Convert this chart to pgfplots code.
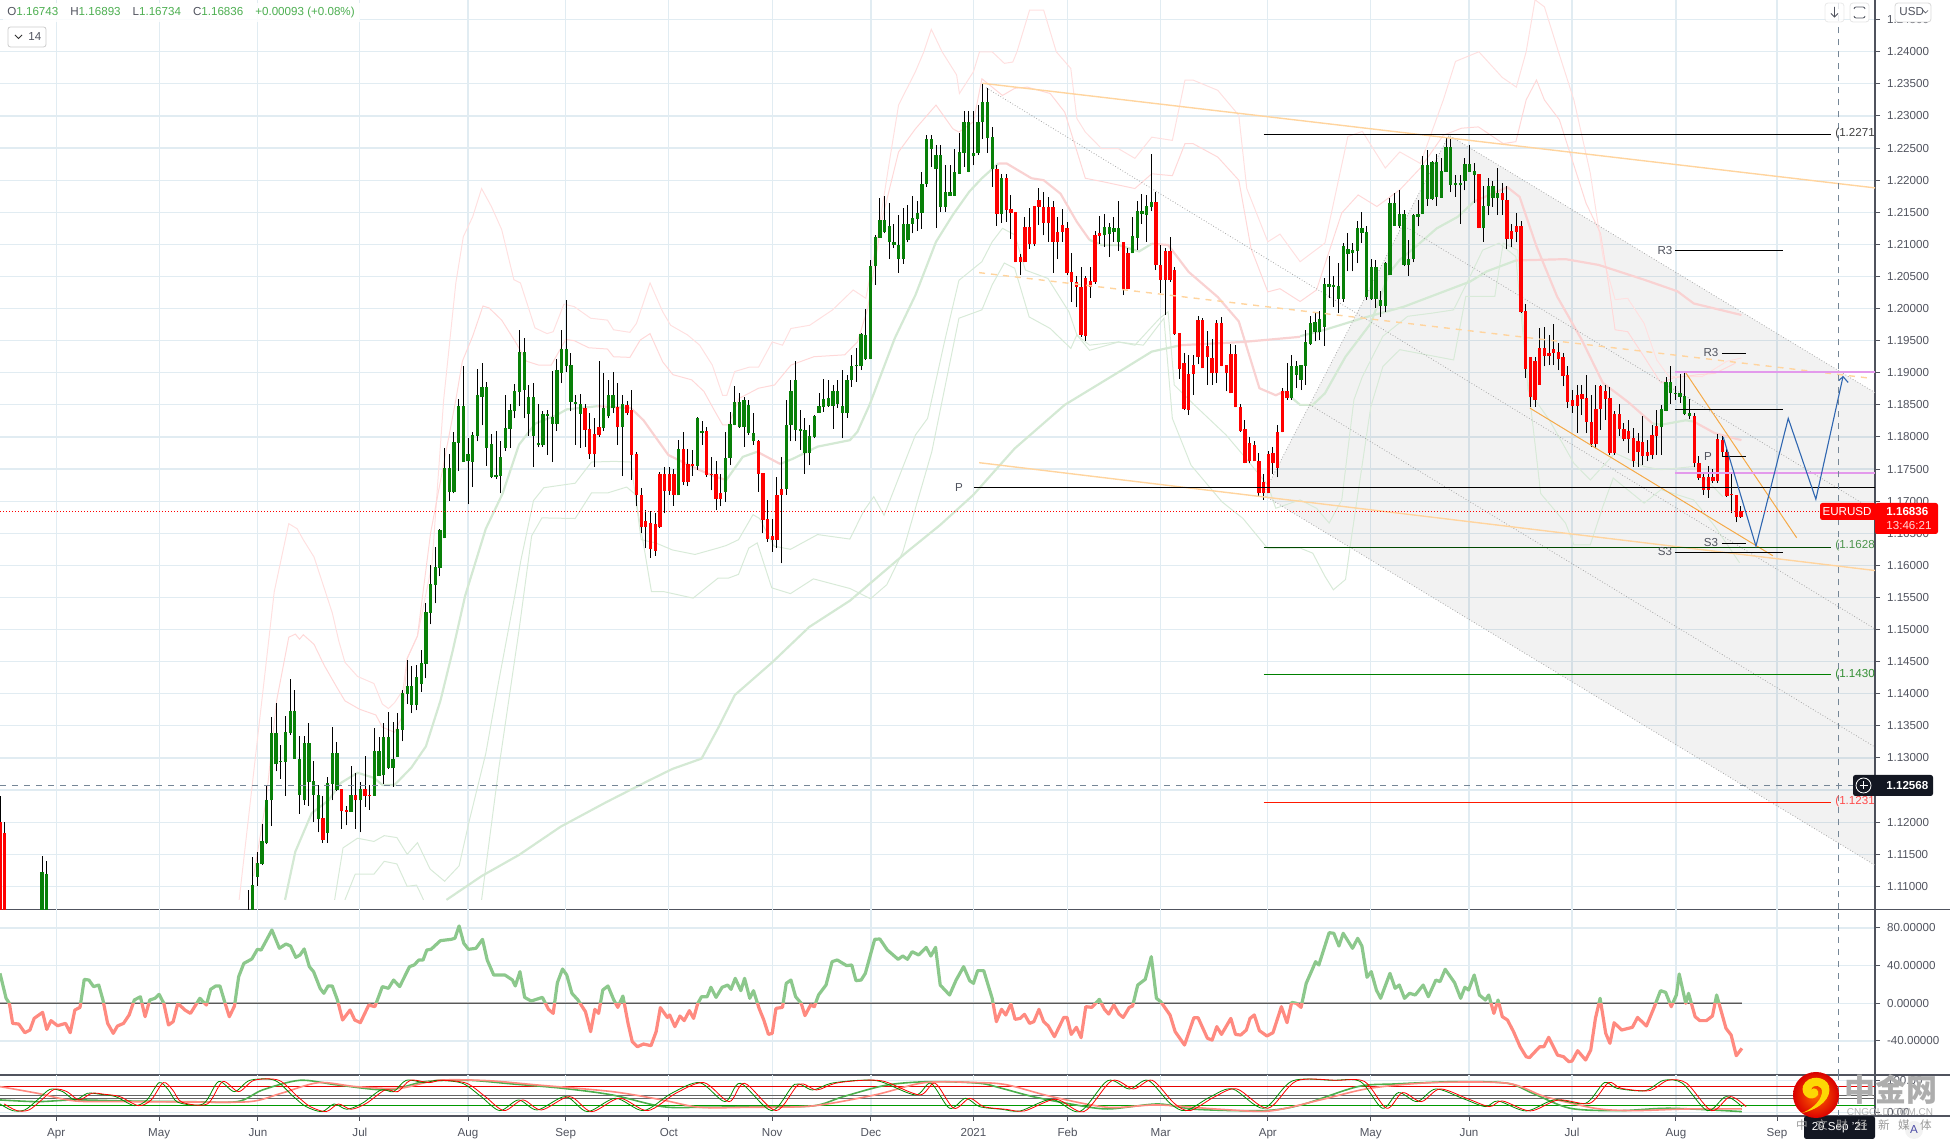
\documentclass[border=0pt]{standalone}
\usepackage{fontspec}
\setmainfont{Liberation Sans}
\newfontfamily\cjk{Noto Sans CJK SC}
\usepackage{pgfplots}
\usepackage{pgfplotstable}
\pgfplotsset{compat=1.18}
\definecolor{gridc}{HTML}{E1ECF2}
\definecolor{labc}{HTML}{50535E}
\definecolor{upc}{HTML}{088008}
\definecolor{dnc}{HTML}{FF0000}
\definecolor{thinred}{HTML}{FFE0E0}
\definecolor{thinred2}{HTML}{FFD8D8}
\definecolor{thkred}{HTML}{F9D2D2}
\definecolor{thingrn}{HTML}{D8EAD8}
\definecolor{thkgrn}{HTML}{D4E9D4}
\definecolor{orl}{HTML}{FFD49E}
\definecolor{ord}{HTML}{F5A947}
\definecolor{vio}{HTML}{E39AEC}
\definecolor{bluep}{HTML}{2F66B0}
\definecolor{xhair}{HTML}{758696}
\definecolor{oscg}{HTML}{8CC88C}
\definecolor{oscr}{HTML}{FF8A80}
\definecolor{dark}{HTML}{131722}
\newcommand{\tf}{\fontsize{5.8}{7}\selectfont}

% candles: bar number, low, body bottom, body top, high
\pgfplotstableread{
n low bot top high
9 1.09 1.095 1.1123 1.1148
10 1.09 1.095 1.1120 1.1140
53 1.10 1.10 1.106 1.1094
54 1.104 1.105 1.1102 1.1146
55 1.1101 1.1115 1.1136 1.1154
56 1.1133 1.1135 1.1171 1.1197
57 1.1166 1.1168 1.1235 1.1257
58 1.1194 1.1234 1.1339 1.1364
59 1.1279 1.1290 1.1339 1.1386
60 1.1268 1.1293 1.1295 1.1320
61 1.1241 1.1294 1.1340 1.1366
62 1.1336 1.1339 1.1373 1.1423
63 1.1299 1.1299 1.1373 1.1406
64 1.1213 1.1242 1.1299 1.1335
65 1.1227 1.1234 1.1324 1.1335
66 1.1225 1.1263 1.1324 1.1355
67 1.1201 1.1243 1.1264 1.1295
68 1.1184 1.1205 1.1243 1.1258
70 1.1168 1.1183 1.1261 1.1271
71 1.1234 1.1260 1.1307 1.1349
72 1.1249 1.1250 1.1307 1.1325
75 1.1216 1.1216 1.1242 1.1288
77 1.1184 1.1234 1.1251 1.1262
80 1.1241 1.1241 1.1311 1.1347
81 1.1272 1.1272 1.1311 1.1333
82 1.1260 1.1273 1.1332 1.1354
83 1.1283 1.1285 1.1332 1.1371
84 1.1255 1.1284 1.1299 1.1356
85 1.1302 1.1302 1.1345 1.1370
86 1.1326 1.1344 1.1401 1.1406
87 1.1384 1.1399 1.1412 1.1452
88 1.1370 1.1383 1.1412 1.1444
89 1.1374 1.1383 1.1426 1.1445
90 1.1403 1.1415 1.1448 1.1468
91 1.1424 1.1447 1.1527 1.1542
92 1.1508 1.1526 1.1571 1.1601
93 1.1541 1.1570 1.1597 1.1629
94 1.1583 1.1596 1.1655 1.1657
95 1.1642 1.1642 1.1751 1.1783
96 1.1701 1.1714 1.1751 1.1774
97 1.1712 1.1714 1.1792 1.1807
98 1.1747 1.1791 1.1848 1.1859
99 1.1761 1.1761 1.1848 1.1911
100 1.1695 1.1762 1.1774 1.1799
101 1.1722 1.1761 1.1803 1.1807
102 1.1793 1.1802 1.1865 1.1906
103 1.1818 1.1863 1.1878 1.1916
104 1.1755 1.1783 1.1878 1.1886
105 1.1736 1.1738 1.1789 1.1804
106 1.1735 1.1738 1.1741 1.1809
107 1.1712 1.1740 1.1769 1.1793
108 1.1778 1.1783 1.1814 1.1866
109 1.1783 1.1813 1.1842 1.1851
110 1.1829 1.1840 1.1872 1.1883
111 1.1848 1.1870 1.1932 1.1967
112 1.1829 1.1873 1.1932 1.1954
113 1.1802 1.1836 1.1863 1.1881
114 1.1753 1.1802 1.1863 1.1884
115 1.1784 1.1787 1.1791 1.1851
116 1.1785 1.1787 1.1836 1.1840
117 1.1772 1.1832 1.1836 1.1842
118 1.1761 1.1820 1.1831 1.1903
119 1.1810 1.1820 1.1905 1.1922
120 1.1884 1.1900 1.1937 1.1967
121 1.1901 1.1911 1.1937 1.2013
122 1.1840 1.1855 1.1912 1.1931
123 1.1788 1.1852 1.1855 1.1866
124 1.1783 1.1836 1.1852 1.1867
129 1.1810 1.1814 1.1845 1.1900
130 1.1829 1.1832 1.1865 1.1889
131 1.1837 1.1845 1.1865 1.1902
133 1.1739 1.1815 1.1851 1.1865
145 1.1709 1.1709 1.1781 1.1796
149 1.1749 1.1755 1.1829 1.1831
150 1.1788 1.1806 1.1810 1.1825
155 1.1699 1.1714 1.1768 1.1808
156 1.1756 1.1767 1.1821 1.1839
157 1.1818 1.1819 1.1855 1.1879
158 1.1814 1.1815 1.1855 1.1868
159 1.1785 1.1816 1.1857 1.1863
160 1.1803 1.1806 1.1850 1.1858
161 1.1788 1.1793 1.1806 1.1837
168 1.1710 1.1719 1.1819 1.1857
169 1.1793 1.1819 1.1872 1.1889
170 1.1793 1.1811 1.1889 1.1918
171 1.1780 1.1810 1.1812 1.1842
172 1.1743 1.1775 1.1811 1.1829
173 1.1756 1.1775 1.1802 1.1819
174 1.1798 1.1800 1.1833 1.1834
175 1.1837 1.1838 1.1849 1.1868
176 1.1839 1.1847 1.1859 1.1891
177 1.1847 1.1848 1.1860 1.1889
178 1.1813 1.1849 1.1872 1.1881
179 1.1845 1.1852 1.1872 1.1889
180 1.1798 1.1837 1.1849 1.1904
181 1.1830 1.1837 1.1889 1.1897
182 1.1878 1.1888 1.1911 1.1928
183 1.1886 1.1910 1.1911 1.1938
184 1.1904 1.1910 1.1960 1.1962
185 1.1920 1.1921 1.1959 1.2000
186 1.1921 1.1921 1.2067 1.2076
187 1.2037 1.2066 1.2112 1.2115
188 1.2110 1.2110 1.2138 1.2173
189 1.2117 1.2119 1.2138 1.2175
190 1.2077 1.2103 1.2129 1.2164
191 1.2094 1.2099 1.2103 1.2132
192 1.2056 1.2077 1.2099 1.2146
193 1.2070 1.2077 1.2132 1.2156
194 1.2103 1.2107 1.2132 1.2161
195 1.2117 1.2132 1.2141 1.2176
196 1.2121 1.2140 1.2149 1.2168
197 1.2124 1.2149 1.2194 1.2212
198 1.2190 1.2194 1.2264 1.2270
199 1.2221 1.2249 1.2264 1.2270
200 1.2126 1.2218 1.2239 1.2255
201 1.2151 1.2159 1.2239 1.2255
202 1.2151 1.2159 1.2182 1.2223
203 1.2175 1.2176 1.2182 1.2223
204 1.2175 1.2176 1.2212 1.2248
205 1.2210 1.2210 1.2244 1.2274
206 1.2221 1.2243 1.2291 1.2308
207 1.2212 1.2213 1.2291 1.2308
208 1.2223 1.2237 1.2243 1.2308
209 1.2239 1.2242 1.2291 1.2317
210 1.2264 1.2290 1.2322 1.2350
211 1.2243 1.2266 1.2322 1.2343
212 1.2190 1.2217 1.2268 1.2283
214 1.2134 1.2147 1.2204 1.2209
236 1.2096 1.2114 1.2127 1.2147
237 1.2080 1.2116 1.2127 1.2134
238 1.2104 1.2120 1.2126 1.2143
239 1.2090 1.2103 1.2125 1.2168
242 1.2086 1.2086 1.2113 1.2143
243 1.2091 1.2110 1.2152 1.2167
244 1.2132 1.2147 1.2152 1.2178
245 1.2104 1.2146 1.2160 1.2177
246 1.2152 1.2159 1.2166 1.2241
276 1.1858 1.1860 1.1911 1.1927
277 1.1876 1.1897 1.1911 1.1919
278 1.1873 1.1889 1.1912 1.1912
279 1.1881 1.1911 1.1948 1.1967
280 1.1943 1.1945 1.1977 1.1989
281 1.1949 1.1964 1.1979 1.1995
282 1.1951 1.1963 1.1984 1.1997
283 1.1942 1.1972 1.2038 1.2047
284 1.2016 1.2034 1.2038 1.2082
285 1.2003 1.2034 1.2036 1.2051
286 1.1993 1.2015 1.2035 1.2071
287 1.2011 1.2015 1.2098 1.2102
288 1.2058 1.2085 1.2093 1.2117
289 1.2058 1.2086 1.2092 1.2102
290 1.2071 1.2090 1.2125 1.2136
291 1.2102 1.2118 1.2125 1.2151
292 1.2014 1.2018 1.2119 1.2128
293 1.2014 1.2015 1.2064 1.2077
294 1.2001 1.2015 1.2064 1.2076
295 1.1987 1.2004 1.2014 1.2028
296 1.1994 1.2004 1.2071 1.2072
297 1.2052 1.2052 1.2164 1.2172
298 1.2129 1.2129 1.2164 1.2180
299 1.2125 1.2128 1.2147 1.2184
300 1.2066 1.2068 1.2147 1.2154
301 1.2051 1.2068 1.2078 1.2107
302 1.2072 1.2078 1.2146 1.2147
303 1.2128 1.2143 1.2148 1.2169
304 1.2147 1.2147 1.2224 1.2237
305 1.2160 1.2170 1.2224 1.2247
306 1.2169 1.2170 1.2229 1.2230
307 1.2160 1.2174 1.2229 1.2241
308 1.2172 1.2173 1.2215 1.2234
309 1.2213 1.2213 1.2252 1.2268
310 1.2181 1.2193 1.2252 1.2265
311 1.2174 1.2192 1.2195 1.2208
312 1.2132 1.2192 1.2195 1.2208
313 1.2184 1.2199 1.2225 1.2234
314 1.2213 1.2213 1.2225 1.2255
315 1.2165 1.2208 1.2215 1.2226
317 1.2104 1.2125 1.2160 1.2191
318 1.2145 1.2160 1.2191 1.2203
319 1.2159 1.2172 1.2191 1.2198
320 1.2146 1.2172 1.2180 1.2219
355 1.1772 1.1815 1.1843 1.1850
356 1.1840 1.1841 1.1886 1.1894
357 1.1852 1.1868 1.1886 1.1911
358 1.1858 1.1867 1.1869 1.1879
359 1.1853 1.1863 1.1868 1.1898
360 1.1834 1.1836 1.1864 1.1900
361 1.1828 1.1832 1.1837 1.1859
}\greenbars

\pgfplotstableread{
n low bot top high
0 1.09 1.095 1.1200 1.1241
1 1.09 1.095 1.1183 1.1200
69 1.1168 1.1172 1.1206 1.1240
73 1.1190 1.1217 1.1251 1.1251
74 1.1195 1.1216 1.1219 1.1225
76 1.1190 1.1234 1.1242 1.1277
78 1.1224 1.1240 1.1251 1.1303
79 1.1219 1.1240 1.1243 1.1258
125 1.1785 1.1811 1.1845 1.1851
126 1.1766 1.1773 1.1813 1.1837
127 1.1753 1.1773 1.1804 1.1829
128 1.1800 1.1803 1.1815 1.1918
132 1.1788 1.1815 1.1846 1.1884
134 1.1834 1.1837 1.1850 1.1856
135 1.1733 1.1772 1.1842 1.1873
136 1.1692 1.1709 1.1773 1.1776
137 1.1650 1.1660 1.1710 1.1721
138 1.1627 1.1660 1.1669 1.1687
139 1.1612 1.1625 1.1666 1.1684
140 1.1615 1.1623 1.1665 1.1681
141 1.1658 1.1660 1.1742 1.1745
142 1.1681 1.1716 1.1742 1.1754
143 1.1710 1.1716 1.1743 1.1754
144 1.1693 1.1710 1.1743 1.1750
146 1.1725 1.1730 1.1781 1.1807
147 1.1723 1.1730 1.1758 1.1781
148 1.1740 1.1755 1.1758 1.1780
151 1.1738 1.1741 1.1810 1.1815
152 1.1717 1.1741 1.1743 1.1769
153 1.1686 1.1704 1.1743 1.1762
154 1.1692 1.1704 1.1712 1.1743
162 1.1715 1.1743 1.1793 1.1795
163 1.1650 1.1671 1.1744 1.1744
164 1.1637 1.1641 1.1672 1.1702
165 1.1621 1.1640 1.1646 1.1673
166 1.1627 1.1640 1.1710 1.1738
167 1.1603 1.1710 1.1719 1.1769
213 1.2129 1.2147 1.2217 1.2224
215 1.2135 1.2154 1.2204 1.2209
216 1.2109 1.2149 1.2155 1.2177
217 1.2072 1.2072 1.2151 1.2151
218 1.2052 1.2072 1.2080 1.2085
219 1.2072 1.2072 1.2127 1.2142
220 1.2093 1.2101 1.2127 1.2156
221 1.2098 1.2100 1.2160 1.2160
222 1.2130 1.2159 1.2169 1.2188
223 1.2114 1.2134 1.2159 1.2182
224 1.2104 1.2134 1.2159 1.2174
225 1.2056 1.2104 1.2159 1.2168
226 1.2077 1.2104 1.2120 1.2142
227 1.2104 1.2119 1.2130 1.2155
228 1.2053 1.2056 1.2126 1.2135
229 1.2010 1.2041 1.2057 1.2087
230 1.2002 1.2034 1.2042 1.2050
231 1.1956 1.1959 1.2034 1.2064
232 1.1950 1.1958 1.2048 1.2050
233 1.2017 1.2034 1.2043 1.2064
234 1.2039 1.2042 1.2115 1.2121
235 1.2101 1.2113 1.2117 1.2144
240 1.2021 1.2030 1.2104 1.2104
241 1.2030 1.2031 1.2087 1.2094
247 1.2060 1.2068 1.2166 1.2182
248 1.2025 1.2045 1.2068 1.2099
249 1.1990 1.2045 1.2089 1.2094
250 1.2042 1.2045 1.2089 1.2112
251 1.1959 1.1960 1.2060 1.2065
252 1.1891 1.1906 1.1962 1.1962
253 1.1842 1.1843 1.1916 1.1931
254 1.1834 1.1842 1.1898 1.1928
255 1.1866 1.1898 1.1912 1.1928
256 1.1913 1.1925 1.1982 1.1988
257 1.1907 1.1907 1.1982 1.1986
258 1.1881 1.1924 1.1942 1.1965
259 1.1881 1.1899 1.1923 1.1952
260 1.1884 1.1899 1.1977 1.1982
261 1.1910 1.1911 1.1977 1.1987
262 1.1871 1.1899 1.1912 1.1912
263 1.1868 1.1868 1.1930 1.1945
264 1.1846 1.1846 1.1930 1.1943
265 1.1808 1.1809 1.1847 1.1851
266 1.1759 1.1760 1.1812 1.1826
267 1.1759 1.1762 1.1791 1.1800
268 1.1762 1.1762 1.1788 1.1793
269 1.1707 1.1712 1.1762 1.1775
270 1.1702 1.1712 1.1730 1.1743
271 1.1712 1.1712 1.1773 1.1778
272 1.1743 1.1759 1.1775 1.1784
273 1.1737 1.1751 1.1808 1.1819
274 1.1807 1.1807 1.1872 1.1876
275 1.1858 1.1860 1.1872 1.1915
316 1.2125 1.2126 1.2210 1.2210
321 1.2146 1.2169 1.2180 1.2195
322 1.2093 1.2108 1.2169 1.2191
323 1.2096 1.2108 1.2121 1.2132
324 1.2103 1.2120 1.2129 1.2149
325 1.1993 1.1995 1.2128 1.2136
326 1.1892 1.1906 1.1997 1.2007
327 1.1847 1.1863 1.1925 1.1925
328 1.1847 1.1857 1.1919 1.1925
329 1.1881 1.1881 1.1939 1.1970
330 1.1910 1.1926 1.1938 1.1972
331 1.1912 1.1926 1.1931 1.1959
332 1.1912 1.1931 1.1937 1.1976
333 1.1904 1.1921 1.1933 1.1947
334 1.1879 1.1895 1.1924 1.1931
335 1.1845 1.1855 1.1897 1.1910
336 1.1838 1.1849 1.1858 1.1873
337 1.1806 1.1849 1.1866 1.1881
338 1.1834 1.1859 1.1867 1.1881
339 1.1806 1.1824 1.1860 1.1897
340 1.1785 1.1789 1.1824 1.1866
341 1.1783 1.1789 1.1843 1.1881
342 1.1811 1.1843 1.1879 1.1881
343 1.1827 1.1859 1.1871 1.1881
344 1.1772 1.1775 1.1860 1.1878
345 1.1772 1.1775 1.1836 1.1840
346 1.1801 1.1812 1.1836 1.1852
347 1.1793 1.1797 1.1812 1.1822
348 1.1775 1.1797 1.1809 1.1827
349 1.1754 1.1763 1.1799 1.1814
350 1.1754 1.1777 1.1793 1.1806
351 1.1757 1.1770 1.1792 1.1832
352 1.1762 1.1770 1.1777 1.1796
353 1.1765 1.1772 1.1803 1.1819
354 1.1772 1.1801 1.1817 1.1842
362 1.1754 1.1759 1.1833 1.1837
363 1.1733 1.1736 1.1759 1.1771
364 1.1710 1.1718 1.1737 1.1745
365 1.1705 1.1718 1.1737 1.1755
366 1.1728 1.1731 1.1737 1.1750
367 1.1728 1.1731 1.1797 1.1805
368 1.1769 1.1776 1.1796 1.1802
369 1.1707 1.1708 1.1777 1.1785
370 1.1681 1.1709 1.1710 1.1745
371 1.1667 1.1675 1.1710 1.1710
372 1.1674 1.1675 1.1685 1.1692
}\redbars

% momentum oscillator
\pgfplotstableread[row sep=crcr]{
n v\\
0 31.8\\1.3 5.3\\2 0\\2.7 -21.3\\4 -22\\5.3 -31.2\\6.4 -28.4\\7.3 -16\\9.1 -9.6\\10 -27.7\\10.9 -18.4\\12.3 -23.8\\14 -21.3\\15 -31.2\\16 -7.1\\17.1 -4.3\\18 25.4\\19 24.7\\20 17.7\\21.1 19.4\\22 3.5\\23 -21.3\\24.2 -31.9\\25.1 -24.1\\26.4 -21.3\\27.6 -12.4\\28.7 3.5\\30 7\\31 -14.2\\32 3.5\\33.1 5.3\\34 9.5\\35 0\\36 -23\\37 -19.5\\38 0\\39.5 -7.1\\40.7 -10.7\\42.7 5.3\\44.1 -1.8\\45 14.8\\46.1 18.4\\47 18.4\\48.1 0\\49 -14.2\\50.1 -2.9\\51 28.3\\52.1 42.4\\53.8 47\\55 57.3\\55.8 56.6\\58.1 77.8\\59.7 58.4\\61.1 63\\62.1 60.8\\63.2 48.8\\64.1 51.3\\65 57.7\\66.1 38.9\\67 33.6\\68.4 15.9\\69.2 10.6\\70.1 18.4\\71 18.4\\72.1 3.5\\73.2 -17.7\\74.8 -7.1\\75.8 -17.7\\77 -20.6\\78.8 -1.8\\80.1 -3.6\\81.7 17.7\\83 15.9\\84.1 24.7\\85.4 17.7\\87.5 38.9\\88.5 40.7\\89.5 46\\90.4 46\\91.2 56.6\\92.1 57.3\\94.1 66.5\\96.4 67.9\\97.2 69\\98.1 82.1\\99.1 63.7\\100.1 57.3\\101.7 58.4\\103.1 67.9\\104.1 46\\105.5 30\\107.9 30\\109.5 24.7\\110.1 18.4\\111.1 33.6\\112.1 6.3\\113.5 2.4\\115.9 6.3\\117.2 -6.4\\118.2 -10.7\\119.1 21.9\\120.2 36.4\\121.1 30\\122.2 10.6\\123.5 3.5\\125.1 -8.9\\126.2 -30.1\\127.1 -6.4\\127.9 -10.7\\128.8 14.1\\129.9 18.4\\131.1 4.2\\132 -4.3\\133.1 7.7\\134.2 -21.3\\135.1 -40.8\\136.2 -46.1\\137.5 -43.2\\139.1 -45\\140.2 -30.1\\141.1 -4.6\\142.6 -15\\143.1 -12.4\\144.2 -24.8\\145.3 -13.5\\146.2 -18.4\\147.3 -7.8\\148.2 -16\\149.1 0\\149.9 7\\151.1 7\\151.9 17\\153 6.3\\154.3 17\\155.5 19.4\\156.2 14.8\\157.1 26.5\\158.3 13.4\\159.1 26.5\\160.2 5.3\\161 13.4\\162.2 -5.4\\163.2 -17.7\\164.2 -33\\165 -31.9\\165.8 -5.4\\167.2 -4.3\\168 21.2\\169 24.7\\170 7\\171.2 0\\172 -13.1\\173.2 -1.8\\174 -3.6\\174.9 8.8\\176.5 19.4\\177.8 44.2\\178.9 46\\180.9 40\\182 40.7\\182.9 24\\184 24.7\\184.9 31.8\\186.9 67.9\\188 68.3\\189.6 56.6\\191.9 46.7\\192.9 50.2\\193.9 46.7\\194.9 54.8\\196.3 51.3\\197.9 59.4\\198.9 50.2\\199.9 59.4\\200.9 19.4\\202.9 8.8\\204.3 24.7\\205.9 38.9\\207.2 24\\208 21.2\\208.9 34.7\\210.2 34.7\\212 5.3\\212.9 -19.5\\214 -6.4\\214.9 -12.4\\216 -0.7\\216.9 -17\\218 -16\\218.9 -11.7\\220 -21.3\\220.9 -19.5\\222 -6.4\\223 -19.5\\224 -24.1\\225.3 -35.4\\227.3 -15\\228 -15\\228.9 -33\\230 -25.5\\231 -36.5\\232 -3.6\\233.3 -4.3\\234.9 4.2\\236 -6.4\\236.9 -11.4\\238 -1.8\\239.1 -11.4\\240 -15\\241.3 -4.3\\242 -2.9\\243.1 19.4\\244.7 25.4\\246 49.5\\247.1 5.3\\248 1.8\\250 -12.4\\251.1 -30.1\\253.1 -44.3\\255.1 -15.3\\256 -15.3\\258 -37.2\\259 -39\\260 -24.8\\261 -33\\263 -16\\264 -33\\265.1 -33.7\\266.3 -28.4\\267.1 -16\\268 -12.4\\269.1 -29\\270.7 -34.7\\272 -31.2\\273.8 -3.6\\275 -20.6\\276 1\\277 0\\278 -4.3\\279.1 21.2\\280.5 37.1\\281.1 44.2\\281.8 40.7\\284 75\\285 74.3\\286.1 60.8\\287 74.3\\289 58.4\\290.1 69\\291 60.8\\292.1 27.6\\293 33.6\\294.1 14.1\\295 5.3\\297 31.8\\298.1 15.9\\299 19.4\\300.1 5.3\\301.2 10.6\\302.4 8.8\\304.1 19.4\\305.2 7\\306.8 24.7\\307.7 23\\308.8 36.1\\310.8 21.9\\312.1 5.3\\313 17\\313.8 14.1\\315 30\\316.1 8.8\\317.4 3.5\\318.1 8.8\\319.2 -10.7\\320.1 3.5\\321 -14.2\\322.1 -17.7\\323.4 -30.1\\324.8 -46.1\\326.1 -56.7\\326.8 -57.7\\329 -46.1\\329.9 -46.1\\330.9 -36.1\\332.8 -55\\334.1 -56.7\\335.2 -62\\335.9 -61.3\\337.1 -50.3\\338.8 -60.2\\339.9 -49.6\\340.9 -16\\341.9 5.3\\343.1 -31.9\\344 -42.5\\344.9 -20.6\\346.5 -28.4\\348.8 -25.5\\349.9 -15\\351.8 -24.1\\353.5 -3.6\\354.8 13.4\\355.9 11.6\\357.1 -3.6\\358.2 8.8\\358.8 31.1\\360.2 0\\360.8 10.6\\362.2 -14.2\\363.2 -18.4\\364.6 -18.4\\365.9 -13.5\\366.8 8.8\\368.8 -26.6\\369.9 -33.7\\371 -55.6\\372.2 -47.8\\
}\osc

% stochastic, fast line
\pgfplotstableread[row sep=crcr]{
n v\\
0 26\\2.7 5.2\\5.3 7.3\\8 38.6\\10.7 71.9\\13.4 64.6\\16 38.6\\18.7 59.4\\21.4 56.3\\24.7 49\\28.7 20.8\\31.4 38.6\\34 92.7\\36 69.8\\38 31.3\\43.4 26\\46.7 95.9\\50.1 64.6\\53.4 100\\58.7 100\\62.7 49\\65.4 17.7\\68.8 2.1\\71.4 26\\74.1 9.4\\77.4 28.1\\81.4 69.8\\84.1 64.6\\86.8 100\\90.8 92.7\\93.5 100\\98.8 90.7\\102.8 49\\106.8 5.2\\110.8 38.6\\114.8 7.3\\120.8 49\\125.5 2.1\\131.5 43.8\\137.5 5.2\\143.5 59.4\\149.5 92.7\\154.9 33.3\\158.2 90.7\\164.9 5.2\\169.8 87.5\\173.6 69.8\\177.6 90.7\\183.6 100\\188.2 95.9\\195.6 54.2\\198.9 90.7\\202.9 12.5\\206.3 43.8\\209.3 17.7\\214 9.4\\218 4.2\\224.7 40.6\\230.7 2.1\\236.7 99\\241.3 72.9\\245.3 100\\250 28.1\\253.4 5.2\\258.7 49\\263.4 72.9\\270 12.5\\276.1 97.9\\284.7 100\\290.7 95.9\\295.4 12.5\\298.8 61.5\\302.8 33.3\\306.8 72.9\\312.8 41.7\\317.4 17.7\\320.1 35.4\\326.1 4.2\\332.1 38.6\\338.8 28.1\\342.8 92.7\\345.5 75\\351.5 67.7\\355.5 100\\359.5 90.7\\364.8 5.2\\368.8 49\\372.2 17.7\\
}\stfast

\begin{document}
\begin{tikzpicture}
\path[use as bounding box] (0,0) rectangle (975pt,572pt);
\pgfplotsset{
  pane/.style={
    at={(0,#1)}, anchor=south west, scale only axis, width=937.5pt,
    xmin=0, xmax=400.64, enlargelimits=false,
    axis x line*=bottom, axis y line*=right,
    axis line style={color=labc,line width=0.6pt},
    xtick={12,34,55.1,76.9,100,120.9,142.9,165,186.1,208,228.1,248,270.9,292.9,313.9,335.9,358.1,379.7},
    grid=major, major grid style={color=gridc,line width=0.6pt},
    tick style={color=labc,line width=0.5pt},
    major tick length=2.5pt, tick align=outside,
    tick label style={font=\tf,text=labc},
    scaled y ticks=false,
    unbounded coords=jump,
    yticklabel style={/pgf/number format/assume math mode=true,/pgf/number format/fixed,/pgf/number format/fixed zerofill},
  },
  wick/.style={draw=none,mark=none,error bars/.cd,y dir=plus,y explicit,error mark=none,
    error bar style={draw=black,line width=0.5pt}},
  body/.style={draw=none,mark=none,error bars/.cd,y dir=plus,y explicit,error mark=none,
    error bar style={draw=#1,line width=1.65pt}},
}
% ---------- price pane
\begin{axis}[pane=117.25pt, height=454.75pt, ymin=1.1064, ymax=1.24807,
  xticklabels={}, xtick style={draw=none},
  ytick={1.11,1.115,1.12,1.125,1.13,1.135,1.14,1.145,1.15,1.155,1.16,1.165,1.17,1.175,1.18,1.185,1.19,1.195,1.2,1.205,1.21,1.215,1.22,1.225,1.23,1.235,1.24,1.245},
  yticklabel style={/pgf/number format/precision=5},
]
% channel
\addplot[draw=none,fill=black,fill opacity=0.05] coordinates {(269.9,1.1710)(309.6,1.2270)(400.64,1.1869)(400.64,1.1133)} --cycle;

% bands, upper
\addplot[thinred,line width=0.5pt] coordinates {(51.1,1.1079)(58.6,1.1559)(61.7,1.1665)(63.5,1.1657)(64.8,1.164)(67.1,1.1613)(69.3,1.1564)(71,1.1526)(72.4,1.1482)(73.7,1.1449)(76.4,1.1427)(79.9,1.1416)(81.7,1.1384)(83,1.1377)(84.3,1.1386)(86.1,1.1406)(87,1.1455)(89.2,1.149)(92.3,1.1602)(94.8,1.1858)(97.4,1.204)(99,1.2112)(101,1.2143)(102.9,1.2187)(105,1.2159)(107.2,1.2123)(109.8,1.2045)(111.2,1.204)(114.3,1.197)(116,1.1964)(116.9,1.1961)(118.2,1.1964)(120.5,1.2007)(122.7,1.2003)(126.2,1.1985)(129.8,1.1982)(131.1,1.1967)(134.6,1.1963)(136,1.1977)(138.9,1.204)(141.6,1.1995)(143.3,1.1974)(146.9,1.1959)(149.5,1.1943)(152.2,1.1912)(154.4,1.1865)(155.3,1.1865)(157,1.1902)(160.2,1.1909)(162.1,1.1909)(165,1.1948)(167.2,1.1943)(169,1.1969)(173,1.1974)(177.9,1.1998)(182.3,1.2029)(185,1.2016)(187.6,1.2115)(189.8,1.2218)(192,1.2317)(195.6,1.2369)(197.4,1.24)(199,1.2435)(201.3,1.24)(204.4,1.2364)(205,1.2335)(208,1.2369)(209.3,1.24)(212,1.24)(214.6,1.2382)(216.4,1.2384)(217.3,1.24)(220,1.2465)(223,1.2465)(225.7,1.24)(228.8,1.2374)(230.1,1.2296)(231.9,1.2275)(235.4,1.2249)(239,1.2249)(242.5,1.2234)(246.1,1.2267)(250.5,1.2262)(253.2,1.2356)(254.9,1.2356)(260.2,1.234)(264.7,1.2301)(266.4,1.2187)(270.9,1.2104)(273.5,1.2116)(277.8,1.2073)(283.1,1.2102)(288,1.2268)(291.1,1.2276)(296,1.2219)(299.1,1.2244)(303.5,1.2226)(308.4,1.2325)(311,1.2385)(316,1.24)(321,1.236)(324,1.2345)(326.1,1.24)(328,1.2481)(330,1.247)(333,1.24)(336.3,1.2325)(339.8,1.2211)(342.5,1.2081)(345.1,1.2014)(347.8,1.2016)(351.3,1.1977)(354,1.192)(356.6,1.1894)(359.7,1.1894)(363.7,1.1894)(369,1.1918)(372.1,1.1923)};
\addplot[thinred2,line width=0.5pt] coordinates {(54.2,1.1116)(56.9,1.1236)(59.1,1.1389)(61.7,1.1488)(63.1,1.1493)(64,1.1485)(64.8,1.1492)(67.1,1.1477)(69.3,1.1444)(71.9,1.1411)(73.7,1.1389)(76.8,1.1376)(80.3,1.1367)(81.7,1.1348)(84.3,1.134)(86.1,1.1367)(87,1.1455)(89.2,1.149)(92,1.165)(97.4,1.1858)(98.8,1.1918)(101,1.1957)(103.2,1.2004)(104.5,1.2001)(107.2,1.1982)(110.3,1.1946)(112.5,1.1918)(115.1,1.1912)(117.8,1.1912)(120.9,1.1952)(122.7,1.195)(125.8,1.1939)(129.8,1.1937)(131.1,1.1925)(134.6,1.1924)(136.8,1.1951)(138.9,1.1961)(141.6,1.1917)(143.8,1.1897)(147.8,1.1889)(150.4,1.1871)(152.6,1.1842)(154.4,1.1819)(155.7,1.1819)(157.9,1.186)(162.1,1.1876)(165.5,1.1881)(169,1.1912)(173.9,1.1925)(180.5,1.1928)(183.2,1.1948)(185.4,1.2)(188.5,1.214)(192,1.2244)(195.6,1.228)(200,1.2317)(203.6,1.228)(204.9,1.2275)(208,1.2291)(209.8,1.2358)(214.2,1.2332)(216.8,1.2343)(219.5,1.2345)(224.4,1.2335)(227.5,1.2306)(231.9,1.2203)(235.4,1.2198)(242.5,1.2187)(246.1,1.221)(250.5,1.2207)(253.2,1.2257)(254.9,1.2257)(260.2,1.2236)(264.7,1.22)(267.3,1.2094)(270.9,1.2026)(273.5,1.2031)(277.8,1.2011)(281.3,1.2029)(286.7,1.2149)(290.2,1.2177)(294.2,1.2159)(299.1,1.2185)(303.5,1.2219)(308.4,1.227)(312.3,1.2281)(315.9,1.2283)(321.2,1.2257)(323.9,1.226)(326.1,1.2325)(328.3,1.2356)(330,1.2325)(333.2,1.2294)(338.9,1.2164)(342,1.2117)(343.8,1.2034)(345.1,1.1967)(347.8,1.1964)(351.3,1.1925)(354.9,1.1884)(357.5,1.1892)(362.8,1.1897)(366.4,1.1899)(370.8,1.1915)};
% bands, lower
\addplot[thingrn,line width=0.5pt] coordinates {(71.5,1.1079)(73.3,1.116)(76.4,1.1175)(79.9,1.117)(82.1,1.1179)(84.8,1.1176)(87,1.115)(89.2,1.1168)(91.9,1.1127)(95,1.1108)(98.1,1.1132)(100.3,1.1203)(103.8,1.1307)(106.5,1.1417)(110,1.1553)(111.3,1.1608)(114,1.1701)(116.2,1.1721)(122.9,1.1728)(126.4,1.1761)(131.3,1.1762)(134.8,1.1761)(137,1.164)(140.1,1.1635)(143.7,1.1624)(148.5,1.1617)(153.4,1.1627)(155.2,1.1631)(157.8,1.164)(160.9,1.1679)(162.3,1.1673)(165.4,1.163)(168.9,1.1625)(174.7,1.1648)(181.6,1.1641)(184.5,1.1684)(186.7,1.1707)(188.9,1.1678)(192,1.1736)(195.6,1.1803)(198.2,1.1829)(201.8,1.1948)(204.9,1.2044)(209.8,1.2073)(212,1.2104)(214.2,1.2125)(216.8,1.2115)(219.1,1.206)(223.9,1.2047)(228.4,1.1995)(230.1,1.1959)(232.8,1.1943)(239,1.1948)(242.5,1.1943)(247.8,1.1985)(249.6,1.1995)(250.9,1.1881)(254.9,1.1852)(262,1.1803)(265.6,1.1772)(270.9,1.1725)(272.6,1.1689)(277.8,1.1702)(281.3,1.1689)(284,1.1666)(286.7,1.1702)(289.3,1.1858)(291.1,1.1894)(295.5,1.1957)(300.8,1.1988)(306.1,1.1993)(310.6,1.1998)(314.1,1.205)(316.8,1.2091)(320.3,1.2102)(323.9,1.2081)(324.7,1.2014)(326.1,1.191)(329.2,1.1712)(334.5,1.1666)(336.3,1.1632)(339.8,1.1632)(342.5,1.1692)(344.7,1.1736)(351.3,1.1697)(354.9,1.1718)(361.9,1.1702)(366.4,1.1661)(371.7,1.1604)};
\addplot[thingrn,line width=0.5pt] coordinates {(73.7,1.1079)(75.9,1.1119)(79.9,1.1119)(82.1,1.1139)(84.8,1.1135)(87,1.11)(89,1.1102)(90.5,1.1079)};
\addplot[thingrn,line width=0.5pt] coordinates {(102.9,1.1079)(106.5,1.128)(110.9,1.1499)(113.6,1.1646)(115.8,1.1674)(122.9,1.1673)(126.4,1.1713)(129.9,1.1713)(133.9,1.1722)(135.7,1.1711)(139.2,1.1559)(141.9,1.1559)(148.1,1.1549)(153.4,1.158)(155.6,1.158)(157.8,1.1586)(160,1.1627)(161.8,1.1635)(164.9,1.1565)(168.9,1.1556)(173.8,1.1579)(181.6,1.1564)(186,1.1548)(189.5,1.157)(192.9,1.1621)(199.1,1.1777)(204.9,1.1985)(209.8,1.1998)(212,1.2037)(214.6,1.2071)(216.8,1.2063)(219.9,1.1987)(224.4,1.1969)(228.8,1.1938)(230.1,1.1959)(232.8,1.1935)(239,1.1948)(244.3,1.1943)(248.7,1.1985)(250.5,1.1829)(254.5,1.1756)(261.1,1.1699)(265.6,1.1673)(270.9,1.1626)(277.8,1.1627)(280.5,1.1619)(283.1,1.1583)(284.9,1.1562)(287.5,1.1578)(288.9,1.165)(292.9,1.1847)(295.5,1.191)(299.1,1.1936)(310.6,1.192)(313.2,1.2019)(319.4,1.2019)(321.2,1.2102)(324.3,1.2091)(326.5,1.1873)(331,1.1827)(336.3,1.1759)(339.8,1.1733)(345.1,1.1775)(351.3,1.1754)(354.9,1.1749)(361.9,1.1754)(368.1,1.1707)};
% slow average
\addplot[thkgrn,line width=1.1pt] coordinates {(95.4,1.1079)(102.9,1.1116)(110.9,1.1149)(119.8,1.1193)(129.5,1.1231)(138.4,1.1264)(143.7,1.1283)(149.9,1.1299)(153.4,1.1346)(157,1.1398)(165,1.1449)(172.9,1.1504)(181.6,1.1545)(193.8,1.1621)(200.9,1.1663)(208,1.171)(216.8,1.1782)(227.5,1.185)(238.1,1.1897)(246.1,1.1933)(252.3,1.1943)};
\addplot[thkred,line width=1.1pt] coordinates {(252.3,1.1943)(265.6,1.1948)(277.8,1.1956)};
\addplot[thkgrn,line width=1.1pt] coordinates {(277.8,1.1957)(283.1,1.1967)(291.1,1.1985)(300,1.2003)(314.1,1.2042)(317.7,1.2058)(323.9,1.2075)};
\addplot[thkred,line width=1.1pt] coordinates {(323.9,1.2075)(334.5,1.2077)(341.6,1.2068)(351.3,1.2045)(358.4,1.2027)(361.9,1.2008)(372.1,1.199)};
% fast average
\addplot[thkgrn,line width=1.1pt] coordinates {(60.9,1.1079)(63.1,1.1154)(66.6,1.1214)(70.2,1.1234)(72.8,1.1261)(76.4,1.1277)(79.9,1.1269)(81.7,1.1258)(84.3,1.1258)(87.9,1.1285)(91,1.1318)(94.1,1.1389)(96.7,1.1466)(99.4,1.1553)(103.8,1.1657)(107.4,1.1712)(110.9,1.1788)(114.4,1.1821)(118.9,1.1834)(121.1,1.1843)(127.7,1.1848)};
\addplot[thkred,line width=1.1pt] coordinates {(127.7,1.1848)(134.8,1.1845)(137.5,1.1826)(142.8,1.1772)(148.1,1.1753)(152.5,1.1739)(155.2,1.1733)};
\addplot[thkgrn,line width=1.1pt] coordinates {(155.2,1.1733)(158.7,1.1769)(161.8,1.1777)};
\addplot[thkred,line width=1.1pt] coordinates {(161.8,1.1777)(166.7,1.1758)};
\addplot[thkgrn,line width=1.1pt] coordinates {(166.7,1.1758)(169.4,1.1766)(174.7,1.1785)(181.6,1.1795)(183.2,1.1808)(185.8,1.185)(191.2,1.1954)(195.6,1.2021)(200,1.2104)(203.6,1.2146)(207.1,1.2182)(209.8,1.2203)(213.3,1.2226)};
\addplot[thkred,line width=1.1pt] coordinates {(213.3,1.2226)(215.1,1.2226)(220.4,1.2203)(223,1.22)(226.6,1.2179)(230.1,1.2135)(232.8,1.2107)};
\addplot[thkgrn,line width=1.1pt] coordinates {(232.8,1.2107)(235.4,1.2099)(239,1.2099)(243.4,1.2089)(246.1,1.2101)};
\addplot[thkred,line width=1.1pt] coordinates {(246.1,1.2101)(249.6,1.2099)(254,1.2057)(260.2,1.2018)(264.7,1.198)(269.1,1.1876)(272.6,1.1865)(274.4,1.1871)};
\addplot[thkgrn,line width=1.1pt] coordinates {(274.4,1.1871)(277.8,1.185)(280.5,1.185)(283.1,1.1868)(287.5,1.1925)(292.9,1.1977)(296.8,1.2055)(299.1,1.2076)(302.6,1.2097)(307,1.2125)(311.5,1.2143)(315,1.2167)};
\addplot[thkred,line width=1.1pt] coordinates {(315,1.2167)(322.1,1.2189)(324.7,1.2174)(328.3,1.2097)(332.7,1.2019)(338,1.1951)(342.5,1.1884)(347.8,1.1855)(353.1,1.1821)};
\addplot[thkgrn,line width=1.1pt] coordinates {(353.1,1.1821)(354.9,1.1819)(360.2,1.1826)(361.9,1.1824)};
\addplot[thkred,line width=1.1pt] coordinates {(361.9,1.1824)(366.4,1.1806)(372.1,1.1795)};

% dotted channel lines
\addplot[gray!70,line width=0.4pt,densely dotted] coordinates {(269.9,1.1710)(309.6,1.2270)(400.64,1.1869)};
\addplot[gray!70,line width=0.4pt,densely dotted] coordinates {(299.7,1.2130)(400.64,1.1685)};
\addplot[gray!70,line width=0.4pt,densely dotted] coordinates {(210.7,1.2344)(400.64,1.1501)};
\addplot[gray!70,line width=0.4pt,densely dotted] coordinates {(279.9,1.1850)(400.64,1.1317)};
\addplot[gray!70,line width=0.4pt,densely dotted] coordinates {(269.9,1.1710)(400.64,1.1133)};

% candles
\addplot[wick] table[x=n,y=low,y error plus expr={\thisrow{high}-\thisrow{low}}] {\greenbars};
\addplot[wick] table[x=n,y=low,y error plus expr={\thisrow{high}-\thisrow{low}}] {\redbars};
\addplot[body=upc] table[x=n,y=bot,y error plus expr={max(\thisrow{top}-\thisrow{bot},0.0002)}] {\greenbars};
\addplot[body=dnc] table[x=n,y=bot,y error plus expr={max(\thisrow{top}-\thisrow{bot},0.0002)}] {\redbars};

% trend lines
\addplot[orl,line width=0.7pt] coordinates {(209.9,1.2351)(400.64,1.2188)};
\addplot[orl,line width=0.7pt] coordinates {(209.2,1.1760)(400.64,1.1592)};
\addplot[orl,line width=0.7pt,dashed] coordinates {(209.2,1.2056)(399.1,1.1892)};
\addplot[ord,line width=0.5pt] coordinates {(326.9,1.1845)(378.8,1.1615)};
\addplot[ord,line width=0.5pt] coordinates {(360.2,1.1900)(383.9,1.1643)};
% levels
\addplot[black,line width=0.5pt] coordinates {(208.1,1.1722)(400.64,1.1722)};
\addplot[black,line width=0.5pt] coordinates {(270,1.2271)(391.2,1.2271)};
\addplot[black!60!green!70!black,line width=0.5pt] coordinates {(270,1.1628)(391.2,1.1628)};
\addplot[green!50!black,line width=0.5pt] coordinates {(270,1.1430)(391.2,1.1430)};
\addplot[red!80!orange,line width=0.5pt] coordinates {(270,1.1231)(391.2,1.1231)};
\addplot[black,line width=0.5pt] coordinates {(357.9,1.2091)(381,1.2091)};
\addplot[black,line width=0.5pt] coordinates {(357.9,1.1843)(381,1.1843)};
\addplot[black,line width=0.5pt] coordinates {(357.9,1.1620)(381,1.1620)};
\addplot[black,line width=0.5pt] coordinates {(367.9,1.1930)(373,1.1930)};
\addplot[black,line width=0.5pt] coordinates {(367.9,1.1770)(373,1.1770)};
\addplot[black,line width=0.5pt] coordinates {(367.9,1.1634)(373,1.1634)};
\addplot[vio,line width=0.9pt] coordinates {(357.9,1.1901)(400.64,1.1901)};
\addplot[vio,line width=0.9pt] coordinates {(357.9,1.1744)(400.64,1.1744)};
% projected path
\addplot[bluep,line width=0.55pt] coordinates {(368.2,1.1800)(375.2,1.1630)(382.1,1.1829)(388,1.1703)(393.8,1.1894)};
\addplot[bluep,line width=0.55pt] coordinates {(392.9,1.1888)(393.8,1.1894)(394.9,1.1885)};
% price and crosshair
\addplot[red,line width=0.5pt,densely dotted] coordinates {(0,1.16836)(400.64,1.16836)};
\addplot[xhair,line width=0.5pt,dashed] coordinates {(0,1.12568)(400.64,1.12568)};
\addplot[xhair,line width=0.5pt,dashed] coordinates {(392.9,1.1064)(392.9,1.24807)};
\end{axis}

% ---------- oscillator pane
\begin{axis}[pane=34.5pt, height=82.75pt, ymin=-76.1, ymax=99.6,
  xticklabels={}, xtick style={draw=none},
  ytick={-40,0,40,80},
  yticklabel style={/pgf/number format/precision=5},
]
\addplot[gray!60,line width=1pt] coordinates {(0,0)(372.2,0)};
\addplot[black!65,line width=0.4pt] coordinates {(0,0)(372.2,0)};
\begin{scope}
\clip (axis cs:0,0) rectangle (axis cs:400.64,99.6);
\addplot[oscg,line width=1.6pt,line join=round] table[x=n,y=v] {\osc};
\end{scope}
\begin{scope}
\clip (axis cs:0,-76.1) rectangle (axis cs:400.64,0);
\addplot[oscr,line width=1.6pt,line join=round] table[x=n,y=v] {\osc};
\end{scope}
\addplot[xhair,line width=0.5pt,dashed] coordinates {(392.9,-76.1)(392.9,99.6)};
\end{axis}

% ---------- stochastic pane
\begin{axis}[pane=14pt, height=20.5pt, ymin=-11.6, ymax=116.6,
  xticklabels={Apr,May,Jun,Jul,Aug,Sep,Oct,Nov,Dec,2021,Feb,Mar,Apr,May,Jun,Jul,Aug,Sep},
  ytick={0,100},
  yticklabel style={/pgf/number format/precision=2},
]
\addplot[red!90!black,line width=0.55pt] coordinates {(0,80)(400.64,80)};
\addplot[black!60,line width=0.5pt] coordinates {(0,52)(400.64,52)};
\addplot[black!60,line width=0.5pt] coordinates {(0,44)(400.64,44)};
\addplot[green!60!black,line width=0.55pt] coordinates {(0,21.9)(400.64,21.9)};
\addplot[green!55!black!70,line width=0.8pt,smooth,tension=0.5] coordinates {(0,38.6)(8,33.3)(16,38.6)(26.7,35.4)(40,33.3)(50.7,33.3)(56.1,69.8)(64.1,100)(72.1,85.4)(82.8,69.8)(90.8,95.9)(100.1,100)(109.5,88.6)(120.2,75)(130.8,54.2)(141.5,17.7)(149.5,15.6)(160.2,17.7)(173.6,19.8)(180.2,49)(189.6,85.4)(198.9,95.9)(209.3,90.7)(214,75)(220.7,49)(228.7,26)(236.7,10.4)(247.4,26)(255.4,9.4)(270,5.2)(278,22.9)(290.1,80.2)(298.1,88.6)(311.4,95.9)(322.1,90.7)(327.5,59.4)(335.5,12.5)(346.1,5.2)(356.8,12.5)(372.2,2.1)};
\addplot[oscr,line width=0.8pt,smooth,tension=0.5] coordinates {(0,80.2)(8,59.4)(16,35.4)(26.7,33.3)(40,32.3)(53.4,33.3)(60.1,59.4)(68.1,92.7)(76.1,80.2)(85.4,75)(93.5,100)(104.1,99)(114.8,85.4)(130.8,64.6)(141.5,38.6)(149.5,15.6)(160.2,15.6)(173.6,19.8)(186.9,54.2)(197.6,92.7)(209.3,92.7)(215.3,85.4)(224.7,49)(236.7,15.6)(247.4,22.9)(260.7,9.4)(271.4,4.2)(282.1,38.6)(292.7,75)(306.1,92.7)(322.1,90.7)(330.1,49)(340.8,12.5)(348.8,5.2)(360.8,10.4)(372.2,10.4)};
\addplot[green!55!black,line width=0.4pt,smooth,tension=0.5] table[x=n,y=v] {\stfast};
\addplot[red,line width=0.4pt,smooth,tension=0.5] table[x expr=\thisrow{n}+0.9,y=v] {\stfast};
\addplot[xhair,line width=0.5pt,dashed] coordinates {(392.9,-11.6)(392.9,116.6)};
\end{axis}

% ---------- captions and price tags, in reference pixels
\begin{scope}[x=0.5pt,y=-0.5pt,yshift=572pt,every node/.style={inner sep=0pt,font=\tf}]
\foreach \yy in {909.5,1075,1116} \draw[labc,line width=0.6pt] (1875,\yy)--(1950,\yy);
% legend
\fill[white,opacity=0.85] (3,3) rectangle (360,22);
\definecolor{lg}{HTML}{4CAF50}
\node[anchor=west,text=labc] at (7,13) {O\textcolor{lg}{1.16743}\hspace{6pt}H\textcolor{lg}{1.16893}\hspace{6pt}L\textcolor{lg}{1.16734}\hspace{6pt}C\textcolor{lg}{1.16836}\hspace{6pt}\textcolor{lg}{+0.00093 (+0.08\%)}};
\draw[black!20,fill=white,rounded corners=1.2pt,line width=0.4pt] (8,27) rectangle (46,47);
\draw[black!80,line width=0.45pt] (15,35)--(18.5,38.5)--(22,35);
\node[anchor=west,text=labc] at (28,37) {14};
% top right buttons
\draw[black!10,fill=white,opacity=0.8,rounded corners=1.5pt,line width=0.4pt] (1825,3) rectangle (1844,22);
\draw[labc,line width=0.4pt] (1834.5,7)--(1834.5,17) (1831,13.5)--(1834.5,17)--(1838,13.5);
\draw[black!10,fill=white,rounded corners=1.5pt,line width=0.4pt] (1850,3) rectangle (1869,22);
\draw[labc,line width=0.4pt,rounded corners=1pt] (1854,9)--(1854,7)--(1865,7)--(1865,9) (1854,16)--(1854,18)--(1865,18)--(1865,16);
\draw[black!15,fill=white,rounded corners=1.5pt,line width=0.4pt] (1895,3) rectangle (1931,22);
\node[anchor=west,text=labc] at (1899,12) {USD};
\draw[labc,line width=0.35pt] (1923,10.5)--(1925.5,13)--(1928,10.5);
% pivot captions
\node[text=labc] at (959,488) {P};
\node[text=labc] at (1665,250.5) {R3};
\node[text=labc] at (1665,552) {S3};
\node[text=labc] at (1711,353) {R3};
\node[text=labc] at (1708,457) {P};
\node[text=labc] at (1711,543) {S3};
\node[anchor=west,text=black!75] at (1835,134) {(1.2271};
\node[anchor=west,text=green!40!black!70] at (1835,546) {(1.1628};
\node[anchor=west,text=green!45!black!80] at (1835,674.5) {(1.1430};
\node[anchor=west,text=red!70] at (1835,802) {(1.1231};
% price tag
\fill[dnc,rounded corners=1.2pt] (1820,503) rectangle (1876,520);
\fill[dnc,rounded corners=1.2pt] (1875,503) rectangle (1938,534);
\node[text=white] at (1847,511.5) {EURUSD};
\node[anchor=west,text=white,font=\tf\bfseries] at (1886,511.5) {1.16836};
\node[anchor=west,text=white!85!red] at (1886,526) {13:46:21};
% crosshair tag
\fill[dark,rounded corners=1.2pt] (1853,775) rectangle (1933,796);
\draw[white,line width=0.4pt] (1863.5,785.5) circle (7.5);
\draw[white,line width=0.45pt] (1859.5,785.5)--(1867.5,785.5) (1863.5,781.5)--(1863.5,789.5);
\node[anchor=west,text=white,font=\tf\bfseries] at (1886,785.5) {1.12568};
% date tag
\fill[dark,rounded corners=1.2pt] (1804,1116) rectangle (1875,1139);
\node[text=white] at (1839.5,1128) {20 Sep '21};
% watermark
\fill[black!5] (1914,1130) circle (9);
\node[text=blue!50!black!70] at (1914,1130) {A};
\shade[inner color=orange!80!red,outer color=red!85!black] (1816,1095) circle (23);
\fill[yellow!75!orange] (1802,1113) .. controls (1820,1109) and (1832,1098) .. (1829,1086) .. controls (1826,1076) and (1808,1074) .. (1803,1086) .. controls (1800,1096) and (1812,1103) .. (1818,1095) .. controls (1820,1090) and (1814,1086) .. (1811,1090) .. controls (1813,1083) and (1823,1085) .. (1822,1093) .. controls (1820,1103) and (1810,1110) .. (1802,1113) -- cycle;
\node[text=black!32,font=\cjk\fontsize{15.5}{16}\selectfont\bfseries] at (1891,1090) {中金网};
\node[text=black!30,font=\fontsize{5}{6}\selectfont] at (1890,1112) {CNGOLD.COM.CN};
\foreach \xx/\ch in {1802/中,1822/文,1842/财,1862/经,1884/新,1904/媒,1926/体}
  \node[text=black!40,font=\cjk\fontsize{5.8}{7}\selectfont] at (\xx,1125) {\ch};
\end{scope}
\end{tikzpicture}
\end{document}
